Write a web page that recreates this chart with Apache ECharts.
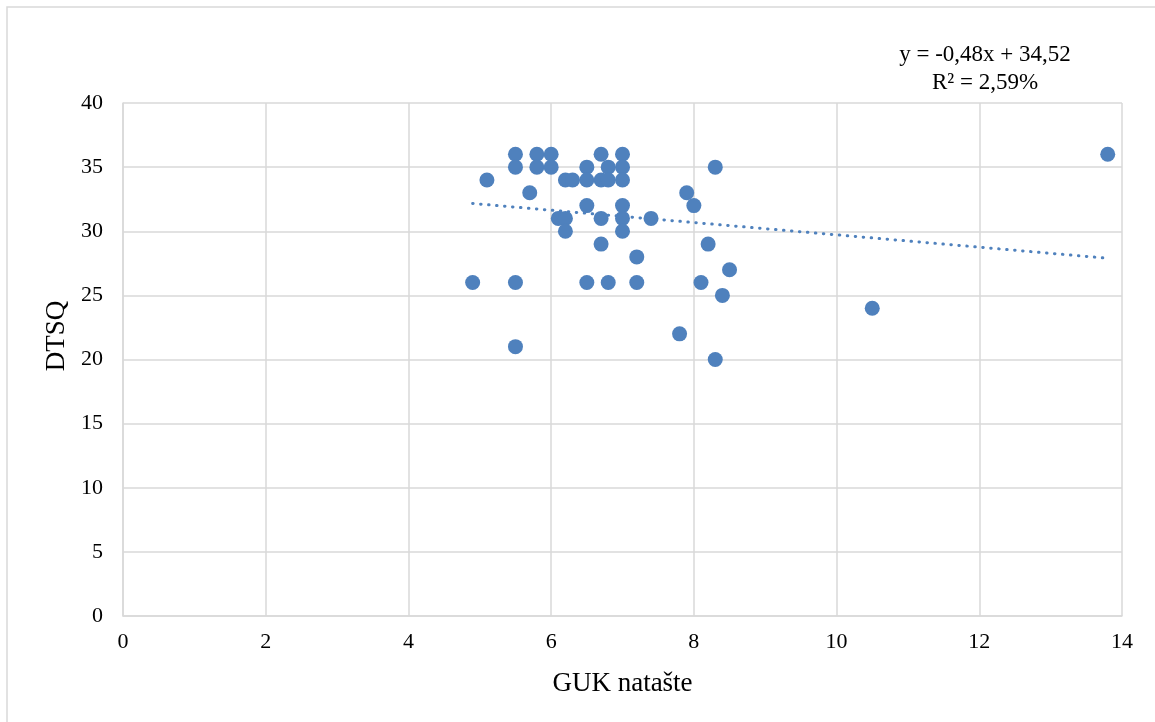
<!DOCTYPE html>
<html>
<head>
<meta charset="utf-8">
<script src="https://cdn.jsdelivr.net/npm/echarts@6/dist/echarts.min.js"></script>
<style>html,body{margin:0;padding:0;background:#fff}#c{width:1155px;height:722px}</style>
</head>
<body>
<div id="c"></div>
<script>
const xTitle = 'GUK natašte';
const yTitle = 'DTSQ';
const xValues = [5.5,5.8,6.0,6.7,7.0, 5.5,5.8,6.0,6.5,6.8,7.0,8.3, 5.1,6.2,6.3,6.5,6.7,6.8,7.0, 5.7,7.9, 6.5,7.0,8.0, 6.1,6.2,6.7,7.0,7.4, 6.2,7.0, 6.7,8.2, 7.2, 8.5, 4.9,5.5,6.5,6.8,7.2,8.1, 8.4, 10.5, 7.8, 5.5, 8.3, 13.8];
const yValues = [36,36,36,36,36, 35,35,35,35,35,35,35, 34,34,34,34,34,34,34, 33,33, 32,32,32, 31,31,31,31,31, 30,30, 29,29, 28, 27, 26,26,26,26,26,26, 25, 24, 22, 21, 20, 36];
const trendSlope = -0.48;
const trendIntercept = 34.52;
const equationText = 'y = -0,48x + 34,52';
const r2Text = 'R² = 2,59%';

const points = xValues.map((x, i) => [x, yValues[i]]);
const xmin = Math.min(...xValues), xmax = Math.max(...xValues);
const trend = [[xmin, trendSlope * xmin + trendIntercept], [xmax, trendSlope * xmax + trendIntercept]];

const chart = echarts.init(document.getElementById('c'));
const font = "'Liberation Serif','Times New Roman',serif";
chart.setOption({
  animation: false,
  textStyle: { fontFamily: font },
  graphic: [
    { type: 'rect', shape: { x: 7, y: 7, width: 1170, height: 740 }, style: { fill: 'none', stroke: '#d9d9d9', lineWidth: 1.5 }, silent: true },
    { type: 'text', x: 985, y: 55, style: { text: equationText, font: "23px " + font, fill: '#000', align: 'center', verticalAlign: 'middle' } },
    { type: 'text', x: 985, y: 83, style: { text: r2Text, font: "23px " + font, fill: '#000', align: 'center', verticalAlign: 'middle' } },
    { type: 'text', x: 57, y: 336, rotation: Math.PI / 2, style: { text: yTitle, font: "27px " + font, fill: '#000', align: 'center', verticalAlign: 'middle' } }
  ],
  grid: { left: 123, right: 33, top: 103, bottom: 106 },
  xAxis: {
    type: 'value', min: 0, max: 14, interval: 2,
    name: xTitle, nameLocation: 'middle', nameGap: 54,
    nameTextStyle: { fontSize: 27, color: '#000', fontFamily: font },
    axisLine: { show: true, lineStyle: { color: '#d9d9d9', width: 1.5 } },
    axisTick: { show: false },
    axisLabel: { fontSize: 22, color: '#000', margin: 15, fontFamily: font },
    splitLine: { show: true, lineStyle: { color: '#d9d9d9', width: 1.5 } }
  },
  yAxis: {
    type: 'value', min: 0, max: 40, interval: 5,
    axisLine: { show: true, lineStyle: { color: '#d9d9d9', width: 1.5 } },
    axisTick: { show: false },
    axisLabel: { fontSize: 22, color: '#000', margin: 20, fontFamily: font },
    splitLine: { show: true, lineStyle: { color: '#d9d9d9', width: 1.5 } }
  },
  series: [
    {
      type: 'scatter', data: points, symbolSize: 15,
      itemStyle: { color: '#4f81bd', opacity: 1 }, z: 3
    },
    {
      type: 'line', data: trend, symbol: 'none', z: 4,
      lineStyle: { color: '#4f81bd', width: 3, type: [0.5, 7.5], cap: 'round' }
    }
  ]
});
</script>
</body>
</html>
